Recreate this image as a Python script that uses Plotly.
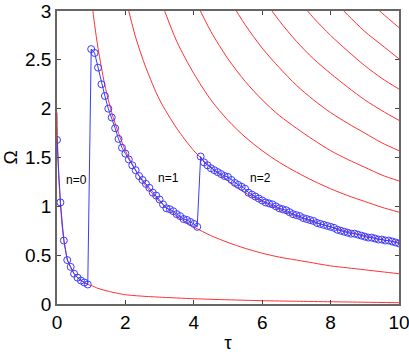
import plotly.graph_objects as go

# blue branch (simulation), tau step 0.1
tau_n0 = [0.0, 0.1, 0.2, 0.3, 0.4, 0.5, 0.6, 0.7, 0.8, 0.9]
omega_n0 = [1.68, 1.04, 0.65, 0.45, 0.38, 0.31, 0.27, 0.24, 0.22, 0.20]

tau_n1 = [1.0, 1.1, 1.2, 1.3, 1.4, 1.5, 1.6, 1.7, 1.8, 1.9,
          2.0, 2.1, 2.2, 2.3, 2.4, 2.5, 2.6, 2.7, 2.8, 2.9,
          3.0, 3.1, 3.2, 3.3, 3.4, 3.5, 3.6, 3.7, 3.8, 3.9,
          4.0, 4.1]
omega_n1 = [2.61, 2.57, 2.42, 2.25, 2.13, 2.00, 1.91, 1.80, 1.69, 1.60,
            1.54, 1.48, 1.42, 1.37, 1.31, 1.27, 1.23, 1.19, 1.14, 1.11,
            1.07, 1.02, 0.98, 0.97, 0.95, 0.92, 0.90, 0.87, 0.86, 0.84,
            0.82, 0.79]

tau_n2 = [4.2, 4.3, 4.4, 4.5, 4.6, 4.7, 4.8, 4.9, 5.0, 5.1,
          5.2, 5.3, 5.4, 5.5, 5.6, 5.7, 5.8, 5.9, 6.0, 6.1,
          6.2, 6.3, 6.4, 6.5, 6.6, 6.7, 6.8, 6.9, 7.0, 7.1,
          7.2, 7.3, 7.4, 7.5, 7.6, 7.7, 7.8, 7.9, 8.0, 8.1,
          8.2, 8.3, 8.4, 8.5, 8.6, 8.7, 8.8, 8.9, 9.0, 9.1,
          9.2, 9.3, 9.4, 9.5, 9.6, 9.7, 9.8, 9.9, 10.0]
omega_n2 = [1.51, 1.45, 1.42, 1.39, 1.37, 1.35, 1.33, 1.31, 1.30, 1.27,
            1.24, 1.22, 1.20, 1.18, 1.14, 1.12, 1.10, 1.08, 1.06, 1.04,
            1.03, 1.02, 1.00, 0.98, 0.97, 0.96, 0.94, 0.92, 0.91, 0.90,
            0.88, 0.87, 0.86, 0.85, 0.83, 0.82, 0.81, 0.80, 0.79, 0.78,
            0.76, 0.75, 0.74, 0.73, 0.72, 0.72, 0.71, 0.70, 0.69, 0.68,
            0.68, 0.67, 0.66, 0.66, 0.65, 0.65, 0.64, 0.63, 0.62]

# lowest red curve
tau_low = [0.0, 0.02, 0.05, 0.1, 0.15, 0.2, 0.3, 0.4, 0.5, 0.6, 0.7, 0.8, 0.9,
           1.0, 1.2, 1.5, 2.0, 2.5, 3.0, 4.0, 5.0, 6.0, 7.0, 8.0, 9.0, 10.0]
omega_low = [1.96, 1.60, 1.30, 1.03, 0.80, 0.66, 0.46, 0.37, 0.31, 0.27, 0.24, 0.22, 0.20,
             0.19, 0.16, 0.13, 0.095, 0.08, 0.07, 0.054, 0.043, 0.034, 0.028, 0.023, 0.018, 0.013]

# upper red curves, read on a shared tau grid (None = above the frame)
tau_red = [1.0, 1.1, 1.2, 1.4, 1.6, 1.8, 2.0, 2.3, 2.6, 3.0, 3.5, 4.0, 4.5,
           5.0, 5.5, 6.0, 6.5, 7.0, 7.5, 8.0, 8.5, 9.0, 9.5, 10.0]
red_1 = [3.14, 2.86, 2.62, 2.24, 1.96, 1.75, 1.57, 1.37, 1.21, 1.05, 0.90, 0.79, 0.70,
         0.63, 0.57, 0.52, 0.48, 0.45, 0.42, 0.39, 0.37, 0.35, 0.33, 0.31]
red_2 = [None, None, None, None, None, None, 3.14, 2.73, 2.42, 2.09, 1.80, 1.57, 1.40,
         1.26, 1.14, 1.05, 0.97, 0.90, 0.84, 0.79, 0.74, 0.70, 0.66, 0.63]
red_3 = [None, None, None, None, None, None, None, None, None, 3.14, 2.69, 2.36, 2.09,
         1.88, 1.71, 1.57, 1.45, 1.35, 1.26, 1.18, 1.11, 1.05, 0.99, 0.94]
red_4 = [None, None, None, None, None, None, None, None, None, None, None, 3.14, 2.79,
         2.51, 2.28, 2.09, 1.93, 1.80, 1.68, 1.57, 1.48, 1.40, 1.32, 1.26]
red_5 = [None, None, None, None, None, None, None, None, None, None, None, None, None,
         3.14, 2.86, 2.62, 2.42, 2.24, 2.09, 1.96, 1.85, 1.75, 1.65, 1.57]
red_6 = [None, None, None, None, None, None, None, None, None, None, None, None, None,
         None, None, 3.14, 2.90, 2.69, 2.51, 2.36, 2.22, 2.09, 1.98, 1.88]
red_7 = [None, None, None, None, None, None, None, None, None, None, None, None, None,
         None, None, None, None, 3.14, 2.93, 2.75, 2.59, 2.44, 2.31, 2.20]
red_8 = [None, None, None, None, None, None, None, None, None, None, None, None, None,
         None, None, None, None, None, None, 3.14, 2.96, 2.79, 2.65, 2.51]
red_9 = [None, None, None, None, None, None, None, None, None, None, None, None, None,
         None, None, None, None, None, None, None, None, 3.14, 2.98, 2.83]

labels = ['n=0', 'n=1', 'n=2']
label_tau = [0.56, 3.26, 5.94]
label_omega = [1.27, 1.29, 1.29]

fig = go.Figure()

fig.add_trace(go.Scatter(x=tau_low, y=omega_low, mode='lines',
                         line=dict(color='#ff3030', width=1, shape='spline', smoothing=0.6)))
for ys in [red_1, red_2, red_3, red_4, red_5, red_6, red_7, red_8, red_9]:
    fig.add_trace(go.Scatter(x=tau_red, y=ys, mode='lines',
                             line=dict(color='#ff3030', width=1, shape='spline', smoothing=0.8)))

fig.add_trace(go.Scatter(x=tau_n0 + tau_n1 + tau_n2, y=omega_n0 + omega_n1 + omega_n2,
                         mode='lines+markers',
                         line=dict(color='#3a3aff', width=1),
                         marker=dict(symbol='circle-open', size=7, color='#3a3aff', line=dict(width=1))))

for t, x, y in zip(labels, label_tau, label_omega):
    fig.add_annotation(x=x, y=y, text=t, showarrow=False,
                       font=dict(size=12, color='black'))

axis_style = dict(showgrid=False, zeroline=False, showline=True, mirror='ticks',
                  linecolor='#666666', linewidth=1.5, ticks='inside', ticklen=4,
                  tickcolor='#444444', tickfont=dict(size=19, color='black'),
                  automargin=False, ticklabeloverflow='allow')

fig.update_xaxes(range=[0, 10], tickvals=[0, 2, 4, 6, 8, 10],
                 title=dict(text='τ', font=dict(size=19, color='black'), standoff=4),
                 **axis_style)
fig.update_yaxes(range=[0, 3], tickvals=[0, 0.5, 1, 1.5, 2, 2.5, 3],
                 ticktext=['0', '0.5', '1', '1.5', '2', '2.5', '3'],
                 title=dict(text='Ω', font=dict(size=19, color='black'), standoff=4),
                 **axis_style)

fig.update_layout(width=409, height=354, showlegend=False,
                  margin=dict(l=57, r=10, t=11, b=50),
                  paper_bgcolor='white', plot_bgcolor='white',
                  font=dict(family='Liberation Sans, Arial, sans-serif'))

# drop the browser's default page margin so the figure sits at the top-left corner
fig.write_html("out.html", config={'displayModeBar': False},
               post_script="document.body.style.margin = '0';")
